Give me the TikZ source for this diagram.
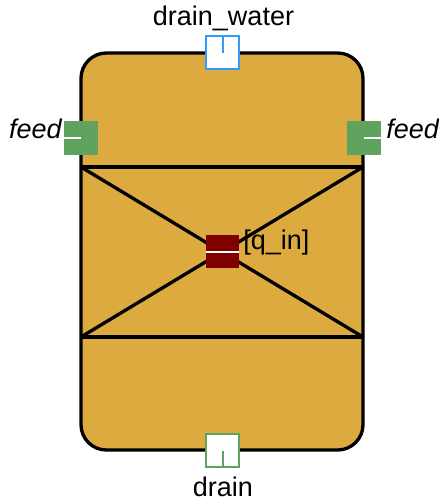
\documentclass[tikz,border=0pt]{standalone}
\usepackage{fontspec}
\setmainfont{Liberation Sans}
\definecolor{bodyfill}{RGB}{221,170,63}
\definecolor{portgreen}{RGB}{95,163,95}
\definecolor{portblue}{RGB}{51,153,255}
\definecolor{heatred}{RGB}{128,0,0}
\begin{document}
\begin{tikzpicture}[x=0.75pt,y=-0.75pt]
        \tikzset{vessel/.style = {shape=rectangle,draw,line width=2.5pt,fill=bodyfill,rounded corners=19pt,minimum width=211.5pt,minimum height=297.75pt,inner sep=0pt,outer sep=0pt}}
        \tikzset{port/.style = {shape=rectangle,minimum size=25pt,inner sep=0pt}}
        \tikzset{wall/.style = {line width=2.5pt}}
        \tikzset{tick/.style = {line width=1.5pt}}
        \tikzset{caption/.style = {inner sep=0pt,font=\fontsize{20.25}{24}\selectfont}}
        \useasboundingbox (0,0) rectangle (439,500);

        \node[vessel] (tank) at (222,251.5) {};
        \coordinate (upperl) at (tank.west |- 0,167);
        \coordinate (upperr) at (tank.east |- 0,167);
        \coordinate (lowerl) at (tank.west |- 0,337);
        \coordinate (lowerr) at (tank.east |- 0,337);

        \draw[wall] (upperl) -- (upperr);
        \draw[wall] (lowerl) -- (lowerr);
        \draw[wall] (upperl) -- (lowerr);
        \draw[wall] (lowerl) -- (upperr);

        \node[port,draw=portblue,fill=white,line width=1.3pt] (drainwater) at (222.5,52.5) {};
        \node[port,draw=portgreen,fill=white,line width=1.3pt] (drain) at (222.5,450.5) {};
        \node[port,fill=portgreen] (feedl) at (81,138) {};
        \node[port,fill=portgreen] (feedr) at (364,138) {};
        \node[port,fill=heatred] (qin) at (222.5,251.5) {};

        \coordinate (drainwaterin) at (drainwater.center);
        \coordinate (drainin) at (drain.center);
        \coordinate (feedlin) at (feedl.center);
        \coordinate (feedrin) at (feedr.center);

        \draw[tick,draw=portblue] (drainwater.north) -- (drainwaterin);
        \draw[tick,draw=portgreen] (drain.south) -- (drainin);
        \draw[tick,draw=white] (feedl.west) -- (feedlin);
        \draw[tick,draw=white] (feedr.east) -- (feedrin);
        \draw[tick,draw=white] (qin.west) -- (qin.east);

        \node[caption] (lwater) at (223.5,18) {drain\_water};
        \node[caption,anchor=base] (ldrain) at (223,496) {drain};
        \node[caption,anchor=east] (lfeedl) at (62,129) {\itshape feed};
        \node[caption,anchor=west] (lfeedr) at (386,129) {\itshape feed};
        \node[caption,anchor=west] (lqin) at (243,243) {[q\_in]};
    \end{tikzpicture}
\end{document}
